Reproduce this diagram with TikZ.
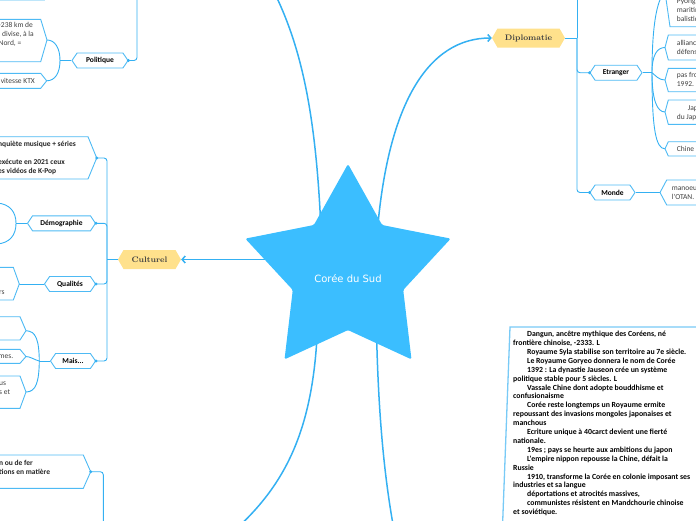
\documentclass[tikz,border=0pt]{standalone}
\usepackage{fontspec}
\newfontfamily\carlito{Carlito}
\newfontfamily\dejavu{DejaVu Sans}
\usetikzlibrary{shapes.symbols,shapes.geometric,arrows.meta,backgrounds}

\definecolor{starblue}{RGB}{59,190,255}
\definecolor{linkblue}{RGB}{52,176,242}
\definecolor{leafblue}{RGB}{78,186,244}
\definecolor{paleblue}{RGB}{120,202,246}
\definecolor{barblue}{RGB}{190,230,250}
\definecolor{topicyellow}{RGB}{255,225,140}
\definecolor{textgray}{RGB}{64,64,64}

\tikzset{
  mainline/.style={draw=linkblue, line width=1.5pt},
  link/.style={draw=linkblue, line width=0.9pt},
  tip/.style={-{Straight Barb[length=3pt,width=7pt]}},
  topic/.style={signal, signal to=west and east, signal pointer angle=120,
    fill=topicyellow, inner sep=0pt, minimum height=19pt,
    font=\fontsize{8}{9}\selectfont\bfseries, text=textgray},
  sub/.style={signal, signal to=west and east, signal pointer angle=112,
    draw=leafblue, line width=0.9pt, fill=white, inner sep=0pt,
    minimum height=15pt, font=\carlito\fontsize{7.5}{8}\selectfont\bfseries},
  leaf/.style={draw=leafblue, line width=0.9pt, fill=white},
  leaftext/.style={inner sep=0pt, align=left, text=textgray,
    font=\carlito\fontsize{7.5}{9}\selectfont},
  boldtext/.style={leaftext, text=black!85, font=\carlito\fontsize{7.5}{9}\selectfont\bfseries},
}

\begin{document}
\begin{tikzpicture}[x=1pt, y=-1pt]
  \useasboundingbox (0,0) rectangle (696,520);
  \clip (0,0) rectangle (696,520);

  \fill[barblue] (0,0) rectangle (45,1.3);

  \node[star, star points=5, star point ratio=1.86, minimum size=216pt, inner sep=0pt,
    fill=starblue, rounded corners=1.5pt] (kor) at (348,272) {};
  \node[text=white, font=\dejavu\fontsize{10}{12}\selectfont] (kortext) at (348,279) {Corée du Sud};
  \coordinate (kne) at (376,250);
  \coordinate (knw) at (322,260);
  \coordinate (ksw) at (318,300);
  \coordinate (kse) at (376,300);
  \coordinate (upend) at (268,-20);
  \coordinate (dlend) at (235,530);
  \coordinate (drend) at (394,530);

  \node[topic, minimum width=63pt] (cult) at (149.5,259.5) {Culturel};
  \node[topic, minimum width=73pt] (dip) at (528.5,38) {Diplomatie};

  \node[sub, minimum width=56pt] (poli) at (100,60.5) {Politique};
  \node[sub, minimum width=68pt] (demo) at (61.5,223.3) {Démographie};
  \node[sub, minimum width=51pt] (qual) at (70,284) {Qualités};
  \node[sub, minimum width=45pt] (mais) at (73,361) {Mais...};
  \node[sub, minimum width=52pt] (etr) at (616,72.7) {Etranger};
  \node[sub, minimum width=45pt] (monde) at (612.5,192.5) {Monde};

  % left leaves
  \draw[leaf] (-5,19.3) -- (40.7,19.3) -- (47,40) coordinate (pol1) -- (40.7,61.7) -- (-5,61.7);
  \node[leaftext, anchor=west] (pol1text) at (-1.5,34.6) {-238 km de\\i divise, à la\\Nord, =};
  \draw[leaf] (-5,73.3) -- (40.7,73.3) -- (46.7,80.8) coordinate (pol2) -- (40.7,88.3) -- (-5,88.3);
  \node[leaftext, anchor=east] (pol2text) at (35,80.8) {e vitesse KTX};

  \draw[leaf] (-5,136.7) -- (88,136.7) -- (96.7,158) coordinate (kpop) -- (88,179) -- (-5,179);
  \node[boldtext, anchor=west] (kpoptext) at (-2,158) {nquiète musique + séries\\[9pt]exécute en 2021 ceux\\es vidéos de K-Pop};

  \coordinate (demo1) at (-3,203);
  \coordinate (demo2) at (-3,244);

  \draw[leaf] (-5,267.3) -- (13.3,267.3) -- (19.3,284) coordinate (qual1) -- (13.3,300) -- (-5,300);
  \node[leaftext, anchor=west] (qual1text) at (-1,293) {rs};

  \draw[leaf] (-5,316.7) -- (20,316.7) -- (26,330.7) coordinate (mais1) -- (20,340) -- (-5,340);
  \draw[leaf] (-5,349.3) -- (20,349.3) -- (26,356.5) coordinate (mais2) -- (20,363.3) -- (-5,363.3);
  \node[leaftext, anchor=west] (mais2text) at (-1.5,356.5) {mes.};
  \draw[leaf] (-5,376) -- (20,376) -- (26,392) coordinate (mais3) -- (20,408.3) -- (-5,408.3);
  \node[leaftext, anchor=west] (mais3text) at (-1,388) {us\\s et};

  \draw[leaf] (-5,455) -- (83.3,455) -- (90.7,471.7) coordinate (rail) -- (83.3,488.3) -- (-5,488.3);
  \node[boldtext, anchor=west] (railtext) at (-1,467.5) {n ou de fer\\tions en matière};

  % right leaves
  \draw[leaf] (700,-43) -- (670,-43) -- (665,-8) coordinate (etr1) -- (670,26.7) -- (700,26.7);
  \node[leaftext, anchor=west] (etr1text) at (676.7,10.7) {Pyong\\maritim\\balistiq};
  \draw[leaf] (700,35) -- (668.3,35) -- (665,47.5) coordinate (etr2) -- (668.3,60) -- (700,60);
  \node[leaftext, anchor=west] (etr2text) at (676.7,47.8) {allianc\\défens};
  \draw[leaf] (700,68.3) -- (668.3,68.3) -- (665,80) coordinate (etr3) -- (668.3,91.7) -- (700,91.7);
  \node[leaftext, anchor=west] (etr3text) at (676.7,79.8) {pas fro\\1992.};
  \draw[leaf] (700,100) -- (668.3,100) -- (665,112) coordinate (etr4) -- (668.3,124.3) -- (700,124.3);
  \node[leaftext, anchor=west] (etr4text) at (676.7,112.8) {\hspace*{11pt}Jap\\du Japo};
  \draw[leaf] (700,141.7) -- (668.3,141.7) -- (665,148.8) coordinate (etr5) -- (668.3,156) -- (700,156);
  \node[leaftext, anchor=west] (etr5text) at (676.7,148.8) {Chine a};
  \draw[leaf] (700,180) -- (666.7,180) -- (660,192.5) coordinate (mon1) -- (666.7,205) -- (700,205);
  \node[leaftext, anchor=west] (mon1text) at (671.7,192.8) {manoeu\\l'OTAN.};

  % history box
  \draw[draw=paleblue, line width=1.3pt] (702,327) -- (510,327) -- (502,540);
  \node[anchor=north west, inner sep=0pt, align=left,
    font=\carlito\fontsize{7.8}{8.9}\selectfont\bfseries] (hist) at (513,331) {%
    \hspace*{14pt}Dangun, ancêtre mythique des Coréens, né\\
    frontière chinoise, -2333. L\\
    \hspace*{14pt}Royaume Syla stabilise son territoire au 7e siècle.\\
    \hspace*{14pt}Le Royaume Goryeo donnera le nom de Corée\\
    \hspace*{14pt}1392 : La dynastie Jauseon crée un système\\
    politique stable pour 5 siècles. L\\
    \hspace*{14pt}Vassale Chine dont adopte bouddhisme et\\
    confusionaisme\\
    \hspace*{14pt}Corée reste longtemps un Royaume ermite\\
    repoussant des invasions mongoles japonaises et\\
    manchous\\
    \hspace*{14pt}Ecriture unique à 40carct devient une fierté\\
    nationale.\\
    \hspace*{14pt}19es ; pays se heurte aux ambitions du japon\\
    \hspace*{14pt}L'empire nippon repousse la Chine, défait la\\
    Russie\\
    \hspace*{14pt}1910, transforme la Corée en colonie imposant ses\\
    industries et sa langue\\
    \hspace*{14pt}déportations et atrocités massives,\\
    \hspace*{14pt}communistes résistent en Mandchourie chinoise\\
    et soviétique.};

  \coordinate (pj) at (137,-10);
  \coordinate (pbr) at (60,60.5);
  \coordinate (cj) at (107,259.5);
  \coordinate (dbr) at (16,223.3);
  \coordinate (mbr) at (39.3,361);
  \coordinate (rj) at (103.3,530);
  \coordinate (dj) at (577,38);
  \coordinate (dtop) at (577,-10);
  \coordinate (ebr) at (652,72.7);

  \begin{scope}[on background layer]
    \draw[mainline, tip] (kor.center |- cult.east) -- (cult.east);
    \draw[mainline, tip] (kne) .. controls (385,100) and (430,38) .. (dip.west);
    \draw[mainline] (knw) .. controls (318,110) and (300,40) .. (upend);
    \draw[mainline] (ksw) .. controls (318,420) and (290,480) .. (dlend);
    \draw[mainline] (kse) .. controls (377,400) and (383,470) .. (drend);

    \draw[link, rounded corners=3pt] (pj) |- (poli.east);
    \draw[link] (poli.west) -- (pbr);
    \draw[link] (pbr) .. controls (60,48) and (55,40) .. (pol1);
    \draw[link] (pbr) .. controls (60,73) and (55,80.8) .. (pol2);

    \draw[link] (cult.west) -- (cj);
    \draw[link, rounded corners=3pt] (cj) |- (kpop);
    \draw[link, rounded corners=3pt] (cj) |- (demo.east);
    \draw[link, rounded corners=3pt] (cj) |- (qual.east);
    \draw[link, rounded corners=3pt] (cj) |- (mais.east);

    \draw[link] (demo.west) -- (dbr);
    \draw[link] (dbr) .. controls (16,212) and (10,204) .. (demo1);
    \draw[link] (dbr) .. controls (16,235) and (10,243) .. (demo2);
    \draw[link] (qual.west) -- (qual1);
    \draw[link] (mais.west) -- (mbr);
    \draw[link] (mbr) .. controls (39,340) and (36,331) .. (mais1);
    \draw[link] (mbr) .. controls (35,360) and (30,356.5) .. (mais2);
    \draw[link] (mbr) .. controls (39,382) and (36,392) .. (mais3);
    \draw[link, rounded corners=3pt] (rj) |- (rail);

    \draw[link] (dip.east) -- (dj);
    \draw[link] (dj) -- (dtop);
    \draw[link, rounded corners=3pt] (dj) |- (etr.west);
    \draw[link, rounded corners=3pt] (dj) |- (monde.west);
    \draw[link] (etr.east) -- (ebr);
    \draw[link] (ebr) .. controls (652,30) and (656,0) .. (etr1);
    \draw[link] (ebr) .. controls (652,55) and (657,47.5) .. (etr2);
    \draw[link] (ebr) .. controls (656,76) and (659,80) .. (etr3);
    \draw[link] (ebr) .. controls (652,100) and (657,112) .. (etr4);
    \draw[link] (ebr) .. controls (652,130) and (656,148.8) .. (etr5);
    \draw[link] (monde.east) -- (mon1);
  \end{scope}

  \fill[linkblue] (poli.east) circle (1.6);
  \fill[linkblue] (kpop) circle (1.6);
  \fill[linkblue] (demo.east) circle (1.6);
  \fill[linkblue] (qual.east) circle (1.6);
  \fill[linkblue] (mais.east) circle (1.6);
  \fill[linkblue] (rail) circle (1.6);
  \fill[linkblue] (etr.west) circle (1.6);
  \fill[linkblue] (monde.west) circle (1.6);
\end{tikzpicture}
\end{document}
